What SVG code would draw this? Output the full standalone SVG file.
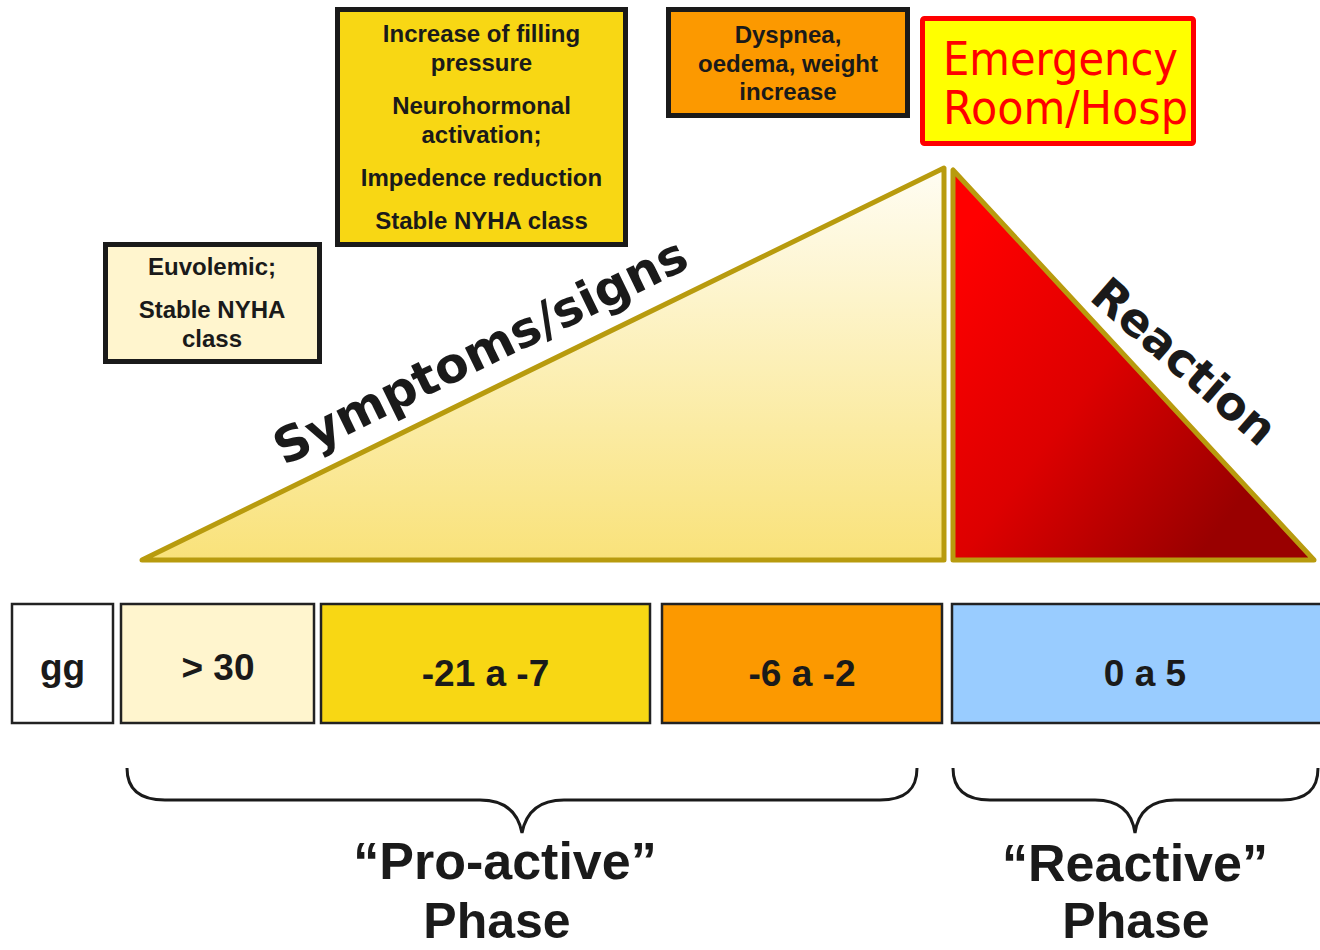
<svg xmlns="http://www.w3.org/2000/svg" width="1320" height="950" viewBox="0 0 1320 950">
<defs>
<linearGradient id="gYel" x1="0" y1="0" x2="0" y2="1">
<stop offset="0" stop-color="#FFFDF3"/>
<stop offset="1" stop-color="#F9E27A"/>
</linearGradient>
<linearGradient id="gRed" x1="0" y1="0.1" x2="1" y2="0.9">
<stop offset="0.05" stop-color="#FF0000"/>
<stop offset="0.45" stop-color="#DD0000"/>
<stop offset="0.85" stop-color="#990000"/>
</linearGradient>
<style>
.box{stroke:#1a1a1a;stroke-width:5}
.cell{stroke:#222;stroke-width:2.5}
.t{font-family:"Liberation Sans",Arial,sans-serif;font-weight:bold;fill:#1a1a1a;text-anchor:middle}
.s24{font-size:24px}
.s37{font-size:37px}
.s52{font-size:52px}
.s50{font-size:50px}
.diag{font-family:"DejaVu Sans",Verdana,sans-serif;font-weight:bold;fill:#1a1a1a}
.em{font-family:"DejaVu Sans",Verdana,sans-serif;font-size:46px;fill:#FF0000}
.tri{stroke:#B89B0E;stroke-width:5;stroke-linejoin:round}
.brace{fill:none;stroke:#1a1a1a;stroke-width:3}
</style>
</defs>
<rect width="1320" height="950" fill="#FFFFFF"/>

<g id="triangle-symptoms">
<polygon class="tri" points="142,560 944,168 944,560" fill="url(#gYel)"/>
<text class="diag" font-size="49" transform="translate(284,466) rotate(-26.05)">Symptoms/signs</text>
</g>

<g id="triangle-reaction">
<polygon class="tri" points="953,170 953,560 1314,560" fill="url(#gRed)"/>
<text class="diag" font-size="46" transform="translate(1088,299) rotate(41)">Reaction</text>
</g>

<g id="box-euvolemic">
<rect class="box" x="105.5" y="244.5" width="214" height="117" fill="#FFF5CE"/>
<text class="t s24" x="212" y="275">Euvolemic;</text>
<text class="t s24" x="212" y="318">Stable NYHA</text>
<text class="t s24" x="212" y="347">class</text>
</g>

<g id="box-filling">
<rect class="box" x="337.5" y="9.5" width="288" height="235" fill="#F8D714"/>
<text class="t s24" x="481.5" y="42">Increase of filling</text>
<text class="t s24" x="481.5" y="71">pressure</text>
<text class="t s24" x="481.5" y="114">Neurohormonal</text>
<text class="t s24" x="481.5" y="143">activation;</text>
<text class="t s24" x="481.5" y="186">Impedence reduction</text>
<text class="t s24" x="481.5" y="229">Stable NYHA class</text>
</g>

<g id="box-dyspnea">
<rect class="box" x="668.5" y="9.5" width="239" height="106" fill="#FC9900"/>
<text class="t s24" x="788" y="43">Dyspnea,</text>
<text class="t s24" x="788" y="72">oedema, weight</text>
<text class="t s24" x="788" y="100">increase</text>
</g>

<g id="box-emergency">
<rect x="922.5" y="18.5" width="271" height="125" rx="2" fill="#FFFF00" stroke="#FF0000" stroke-width="5"/>
<text class="em" x="943" y="75" textLength="235" lengthAdjust="spacingAndGlyphs">Emergency</text>
<text class="em" x="943" y="124" textLength="245" lengthAdjust="spacingAndGlyphs">Room/Hosp</text>
</g>

<g id="cell-gg">
<rect class="cell" x="12" y="604" width="101" height="119" fill="#FFFFFF"/>
<text class="t s37" x="62.5" y="680">gg</text>
</g>
<g id="cell-30">
<rect class="cell" x="121" y="604" width="193" height="119" fill="#FFF5CE"/>
<text class="t s37" x="218" y="680">&gt; 30</text>
</g>
<g id="cell-21-7">
<rect class="cell" x="321" y="604" width="329" height="119" fill="#F8D714"/>
<text class="t s37" x="485.5" y="686">-21 a -7</text>
</g>
<g id="cell-6-2">
<rect class="cell" x="662" y="604" width="280" height="119" fill="#FC9900"/>
<text class="t s37" x="802" y="686">-6 a -2</text>
</g>
<g id="cell-0-5">
<rect class="cell" x="952" y="604" width="372" height="119" fill="#99CCFF"/>
<text class="t s37" x="1145" y="686">0 a 5</text>
</g>

<g id="connectors">
<path class="brace" d="M127,768 C127,790 140,800 165,800 L480,800 C505,800 518,812 522,833 C526,812 539,800 564,800 L880,800 C905,800 917,790 917,768"/>
<path class="brace" d="M953,768 C953,790 966,800 990,800 L1095,800 C1120,800 1132,812 1135,833 C1138,812 1150,800 1175,800 L1282,800 C1306,800 1318,790 1318,768"/>
</g>

<g id="label-proactive">
<text class="t s52" x="505" y="879">“Pro-active”</text>
<text class="t s50" x="497" y="938">Phase</text>
</g>
<g id="label-reactive">
<text class="t s52" x="1135" y="881">“Reactive”</text>
<text class="t s50" x="1136" y="938">Phase</text>
</g>
</svg>
